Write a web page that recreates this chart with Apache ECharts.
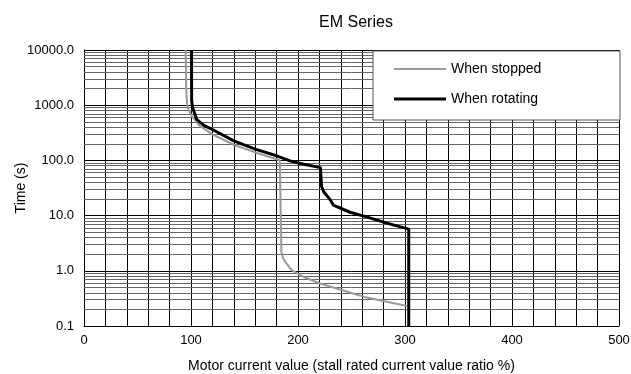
<!DOCTYPE html>
<html>
<head>
<meta charset="utf-8">
<script src="https://cdn.jsdelivr.net/npm/echarts@6/dist/echarts.min.js"></script>
<style>
  html, body { margin: 0; padding: 0; background: #fff; }
  #main { width: 631px; height: 374px; }
</style>
</head>
<body>
<div id="main"></div>
<script>
// current ratio (%) / time (s)
var stoppedX = [95, 95.5, 96.5, 97.5, 100.6, 108.4, 120, 140.5, 160.7, 180.7, 183, 184.5, 184.5, 186, 188, 194, 205, 220.6, 240.8, 261, 283, 302];
var stoppedY = [10000, 2000, 1000, 850, 640, 420, 296, 190, 138, 104, 100, 95, 2.2, 1.7, 1.46, 1.03, 0.78, 0.59, 0.45, 0.34, 0.275, 0.23];

var rotatingX = [100.5, 100.6, 101.5, 105.3, 112, 120, 140.5, 160.7, 180.7, 192.5, 202, 221, 222, 222, 224, 230, 233, 248.6, 264, 283, 303.5, 303.5];
var rotatingY = [10000, 1200, 900, 556, 430, 363, 224, 158, 120, 98, 88, 74, 69, 34, 27, 19.5, 15.5, 11.5, 9.5, 7.3, 5.7, 0.1];

var seriesNames = ['When stopped', 'When rotating'];
var decades = [0.1, 1, 10, 100, 1000];
var minorSteps = [2, 3, 4, 5, 6, 7, 8, 9];

var minorLines = [];
decades.forEach(function (d) {
  minorSteps.forEach(function (m) {
    minorLines.push({ yAxis: +(d * m).toPrecision(3) });
  });
});

function pairs(xs, ys) {
  return xs.map(function (x, i) { return [x, ys[i]]; });
}

var font = 'Liberation Sans, Arial, sans-serif';
var chart = echarts.init(document.getElementById('main'));

var option = {
  animation: false,
  textStyle: { fontFamily: font },
  title: {
    text: 'EM Series',
    left: 351,
    textAlign: 'center',
    top: 10,
    textStyle: { fontSize: 16, fontWeight: 'normal', color: '#000', fontFamily: font }
  },
  grid: { left: 84, right: 12, top: 50, bottom: 48, containLabel: false, outerBoundsMode: 'none' },
  graphic: [{
    type: 'rect',
    z: 10,
    shape: { x: 373, y: 51, width: 247, height: 69 },
    style: { fill: '#fff', stroke: '#555', lineWidth: 1 }
  }],
  legend: {
    z: 20,
    orient: 'vertical',
    left: 389,
    top: 57,
    itemWidth: 52,
    itemHeight: 14,
    itemGap: 16,
    textStyle: { fontSize: 14, color: '#000', fontFamily: font },
    data: [
      { name: seriesNames[0], icon: 'path://M0,0H52V2H0Z' },
      { name: seriesNames[1], icon: 'path://M0,0H52V3H0Z' }
    ]
  },
  xAxis: {
    type: 'value',
    min: 0,
    max: 500,
    interval: 100,
    name: 'Motor current value (stall rated current value ratio %)',
    nameLocation: 'middle',
    nameGap: 33,
    nameMoveOverlap: false,
    nameTextStyle: { fontSize: 14, color: '#000' },
    axisLine: { lineStyle: { color: '#000' } },
    axisTick: { show: false },
    axisLabel: { fontSize: 13, color: '#000', margin: 8 },
    splitLine: { show: true, lineStyle: { color: '#000', width: 1 } },
    minorTick: { show: false, splitNumber: 5 },
    minorSplitLine: { show: true, lineStyle: { color: '#000', width: 1 } }
  },
  yAxis: {
    type: 'log',
    logBase: 10,
    min: 0.1,
    max: 10000,
    name: 'Time (s)',
    nameLocation: 'middle',
    nameGap: 56,
    nameMoveOverlap: false,
    nameTextStyle: { fontSize: 14, color: '#000' },
    axisLine: { show: true, lineStyle: { color: '#000' } },
    axisTick: { show: false },
    axisLabel: {
      fontSize: 13,
      color: '#000',
      margin: 10,
      formatter: function (v) { return Number(v).toFixed(1); }
    },
    splitLine: { show: true, lineStyle: { color: '#000', width: 1 } }
  },
  series: [
    {
      name: seriesNames[0],
      type: 'line',
      symbol: 'none',
      z: 5,
      lineStyle: { color: '#999', width: 2 },
      itemStyle: { color: '#999' },
      data: pairs(stoppedX, stoppedY),
      markLine: {
        silent: true,
        symbol: 'none',
        label: { show: false },
        z: 1,
        lineStyle: { color: '#666', width: 1, type: 'solid' },
        data: minorLines
      }
    },
    {
      name: seriesNames[1],
      type: 'line',
      symbol: 'none',
      z: 6,
      lineStyle: { color: '#000', width: 3 },
      itemStyle: { color: '#000' },
      data: pairs(rotatingX, rotatingY)
    }
  ]
};

chart.setOption(option);
</script>
</body>
</html>
